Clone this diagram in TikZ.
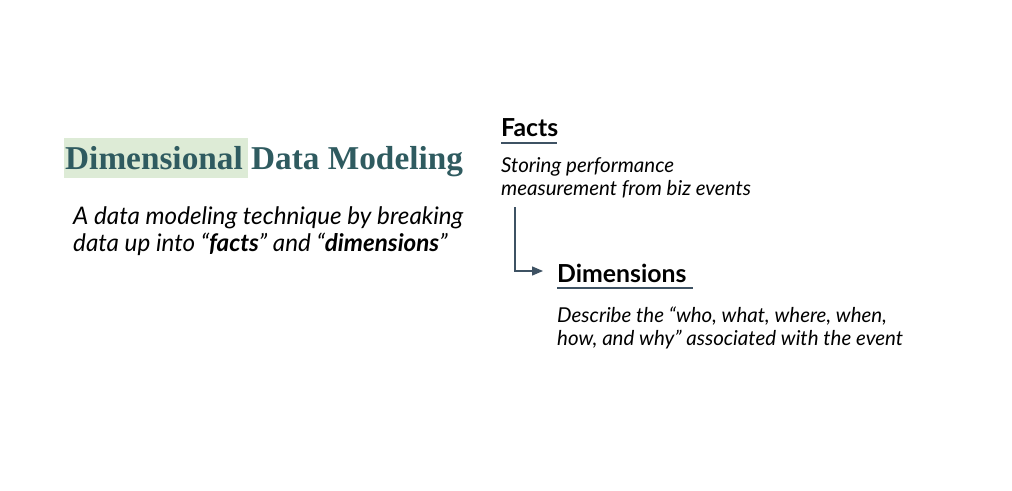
\documentclass[tikz,border=0pt]{standalone}
\usepackage{fontspec}
\usepackage{xcolor}
\usetikzlibrary{positioning}
\usetikzlibrary{arrows.meta}
\setmainfont{Lato}
\newfontfamily\titlefont{Liberation Serif}
\definecolor{titleteal}{HTML}{2F5B60}
\definecolor{markgreen}{HTML}{DDEBD6}
\definecolor{slate}{HTML}{3E5263}
\tikzset{
  heading/.style={anchor=base west,inner sep=0pt,font=\fontsize{24.8}{28}\selectfont\bfseries},
  body/.style={anchor=base west,inner sep=0pt,align=left,font=\fontsize{20.5}{23}\selectfont\itshape},
  rule/.style={draw=slate,line width=1.3pt}
}

\begin{document}
\begin{tikzpicture}[x=1pt,y=-1pt]
        %%% CANVAS %%%
        \useasboundingbox (0,0) rectangle (1012,490);

        %%% TITLE %%%
        \fill[markgreen] (64,138) rectangle (248,178);
        \node[anchor=base west,inner sep=0pt,text=titleteal,font=\titlefont\fontsize{33.3}{36}\selectfont\bfseries] (title) at (65,169) {Dimensional Data Modeling};
        % base of a two-line node is the last line
        \node[anchor=base west,inner sep=0pt,align=left,font=\fontsize{24.2}{27}\selectfont\itshape] (intro) at (73,251)
          {A data modeling technique by breaking\\data up into \textquotedblleft\textbf{facts}\textquotedblright\ and \textquotedblleft\textbf{dimensions}\textquotedblright};

        %%% FACTS %%%
        \node[heading] (facts) at (501,136) {Facts};
        \draw[rule] (501,143) coordinate (fl) -- (557,143) coordinate (fr);
        \node[body] (factsbody) at (501,195) {Storing performance\\measurement from biz events};

        %%% DIMENSIONS %%%
        \node[heading] (dims) at (557,282) {Dimensions};
        \draw[rule] (557,288) coordinate (dl) -- (693,288) coordinate (dr);
        \node[body] (dimsbody) at (557,345) {Describe the \textquotedblleft who, what, where, when,\\how, and why\textquotedblright\ associated with the event};

        %%% CONNECTOR %%%
        \coordinate (start) at (515,207);
        \draw[slate,line width=1.3pt,-{Triangle[length=11pt,width=9pt]}] (start) |- ([xshift=-14pt,yshift=11pt]dims.base west);
    \end{tikzpicture}
\end{document}
